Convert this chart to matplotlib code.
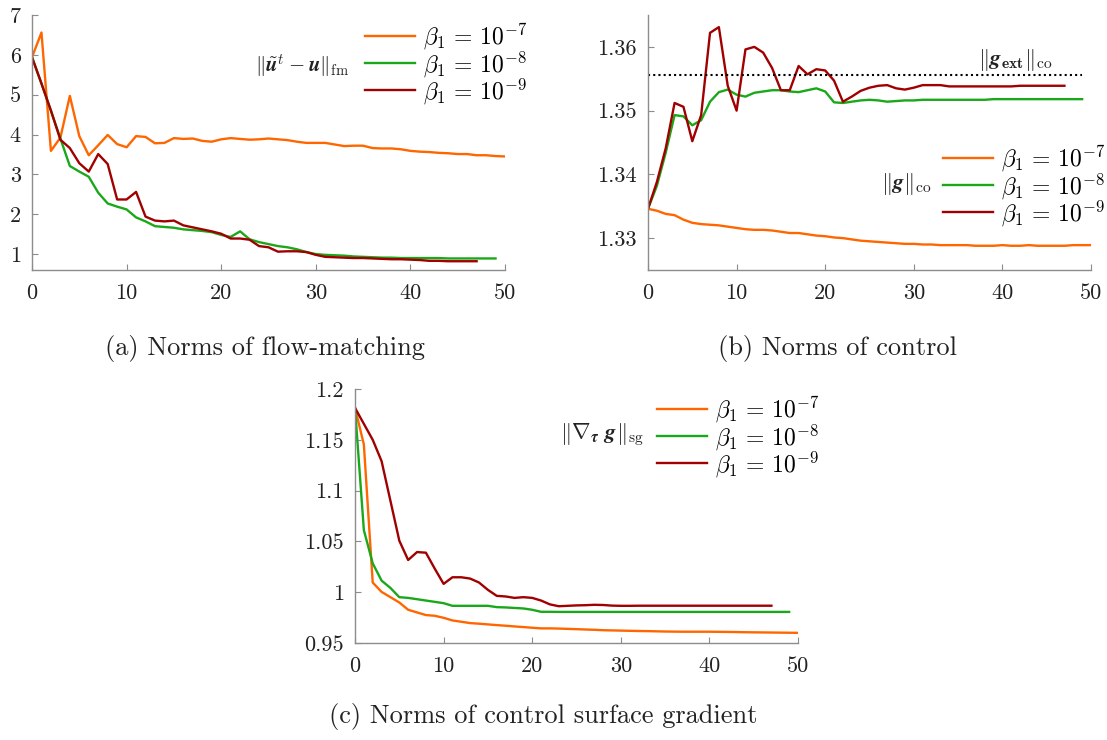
import numpy as np
import matplotlib
matplotlib.use("Agg")
import matplotlib.pyplot as plt

plt.rcParams['mathtext.fontset'] = 'cm'
plt.rcParams['font.family'] = ['cmr10', 'DejaVu Serif']
plt.rcParams['axes.formatter.use_mathtext'] = True
plt.rcParams['axes.unicode_minus'] = False

# ---------------- data ----------------
fm_b7 = [5.94, 6.56, 3.59, 3.92, 4.97, 3.96, 3.48, 3.73, 3.99, 3.76, 3.68, 3.96, 3.94, 3.78, 3.79,
         3.91, 3.89, 3.90, 3.84, 3.82, 3.88, 3.91, 3.89, 3.87, 3.88, 3.90, 3.88, 3.86, 3.82, 3.79,
         3.79, 3.79, 3.75, 3.71, 3.72, 3.72, 3.66, 3.65, 3.65, 3.63, 3.59, 3.57, 3.56, 3.54, 3.53,
         3.51, 3.51, 3.48, 3.48, 3.46, 3.45]
fm_b8 = [5.94, 5.28, 4.60, 3.90, 3.21, 3.07, 2.94, 2.54, 2.27, 2.19, 2.12, 1.92, 1.82, 1.70, 1.68,
         1.66, 1.62, 1.60, 1.58, 1.55, 1.48, 1.43, 1.57, 1.37, 1.30, 1.25, 1.20, 1.17, 1.12, 1.05,
         1.00, 0.98, 0.97, 0.96, 0.94, 0.93, 0.92, 0.91, 0.91, 0.90, 0.90, 0.90, 0.90, 0.90, 0.89,
         0.89, 0.89, 0.89, 0.89, 0.89]
fm_b9 = [5.94, 5.28, 4.60, 3.87, 3.66, 3.28, 3.07, 3.51, 3.26, 2.37, 2.37, 2.56, 1.94, 1.84, 1.82,
         1.84, 1.72, 1.67, 1.62, 1.57, 1.51, 1.39, 1.39, 1.36, 1.20, 1.17, 1.06, 1.07, 1.07, 1.05,
         0.98, 0.93, 0.92, 0.91, 0.90, 0.90, 0.89, 0.88, 0.87, 0.87, 0.86, 0.85, 0.83, 0.83, 0.82,
         0.82, 0.82, 0.82]

co_b7 = [1.3346, 1.3343, 1.3338, 1.3336, 1.3329, 1.3324, 1.3322, 1.3321, 1.3320, 1.3318, 1.3316,
         1.3314, 1.3313, 1.3313, 1.3312, 1.3310, 1.3308, 1.3308, 1.3306, 1.3304, 1.3303, 1.3301,
         1.3300, 1.3298, 1.3296, 1.3295, 1.3294, 1.3293, 1.3292, 1.3291, 1.3291, 1.3290, 1.3290,
         1.3289, 1.3289, 1.3289, 1.3289, 1.3288, 1.3288, 1.3288, 1.3289, 1.3288, 1.3288, 1.3289,
         1.3288, 1.3288, 1.3288, 1.3288, 1.3289, 1.3289, 1.3289]
co_b8 = [1.3346, 1.3382, 1.3434, 1.3493, 1.3491, 1.3477, 1.3485, 1.3514, 1.3529, 1.3533, 1.3525,
         1.3522, 1.3528, 1.3530, 1.3532, 1.3532, 1.3530, 1.3529, 1.3532, 1.3535, 1.3530, 1.3513,
         1.3512, 1.3514, 1.3516, 1.3517, 1.3516, 1.3514, 1.3515, 1.3516, 1.3516, 1.3517, 1.3517,
         1.3517, 1.3517, 1.3517, 1.3517, 1.3517, 1.3517, 1.3518, 1.3518, 1.3518, 1.3518, 1.3518,
         1.3518, 1.3518, 1.3518, 1.3518, 1.3518, 1.3518]
co_b9 = [1.3346, 1.3388, 1.3441, 1.3512, 1.3506, 1.3452, 1.3493, 1.3622, 1.3631, 1.3539, 1.3500,
         1.3596, 1.3600, 1.3591, 1.3567, 1.3532, 1.3532, 1.3570, 1.3557, 1.3565, 1.3563, 1.3547,
         1.3514, 1.3522, 1.3531, 1.3536, 1.3539, 1.3540, 1.3535, 1.3533, 1.3536, 1.3540, 1.3540,
         1.3540, 1.3538, 1.3538, 1.3538, 1.3538, 1.3538, 1.3538, 1.3538, 1.3538, 1.3539, 1.3539,
         1.3539, 1.3539, 1.3539, 1.3539]
co_ext = 1.3556
co_ext_iters = [0, 49]

sg_b7 = [1.1814, 1.1454, 1.0095, 1.0003, 0.9951, 0.9899, 0.9827, 0.9801, 0.9775, 0.9768, 0.9748,
         0.9722, 0.9709, 0.9696, 0.9690, 0.9683, 0.9676, 0.9670, 0.9663, 0.9657, 0.9650, 0.9644,
         0.9644, 0.9642, 0.9639, 0.9636, 0.9633, 0.9630, 0.9626, 0.9624, 0.9622, 0.9620, 0.9618,
         0.9617, 0.9615, 0.9613, 0.9612, 0.9611, 0.9611, 0.9611, 0.9611, 0.9610, 0.9609, 0.9608,
         0.9606, 0.9605, 0.9604, 0.9603, 0.9602, 0.9601, 0.9600]
sg_b8 = [1.1814, 1.0611, 1.0284, 1.0114, 1.0042, 0.9951, 0.9944, 0.9931, 0.9918, 0.9905, 0.9892,
         0.9866, 0.9866, 0.9866, 0.9866, 0.9866, 0.9853, 0.9850, 0.9845, 0.9840, 0.9827, 0.9807,
         0.9807, 0.9806, 0.9806, 0.9806, 0.9806, 0.9806, 0.9806, 0.9806, 0.9806, 0.9806, 0.9806,
         0.9806, 0.9806, 0.9806, 0.9806, 0.9806, 0.9806, 0.9806, 0.9806, 0.9806, 0.9806, 0.9806,
         0.9806, 0.9806, 0.9806, 0.9806, 0.9806, 0.9806]
sg_b9 = [1.1814, 1.1657, 1.1500, 1.1290, 1.0899, 1.0507, 1.0317, 1.0395, 1.0389, 1.0232, 1.0082,
         1.0147, 1.0147, 1.0134, 1.0095, 1.0023, 0.9964, 0.9958, 0.9944, 0.9951, 0.9944, 0.9918,
         0.9880, 0.9862, 0.9866, 0.9870, 0.9872, 0.9876, 0.9874, 0.9868, 0.9866, 0.9866, 0.9867,
         0.9867, 0.9867, 0.9867, 0.9867, 0.9867, 0.9867, 0.9867, 0.9867, 0.9867, 0.9867, 0.9867,
         0.9867, 0.9867, 0.9867, 0.9867]

legend_labels = [r'$\beta_1\,=\,10^{-7}$', r'$\beta_1\,=\,10^{-8}$', r'$\beta_1\,=\,10^{-9}$']
xticks = [0, 10, 20, 30, 40, 50]
yticks_a = [1, 2, 3, 4, 5, 6, 7]
yticks_b = [1.33, 1.34, 1.35, 1.36]
yticks_c = [0.95, 1.0, 1.05, 1.1, 1.15, 1.2]
captions = ['(a) Norms of flow-matching', '(b) Norms of control',
            '(c) Norms of control surface gradient']

colors = ['#ff6600', '#1aa81a', '#a00000']
spine_gray = '#8c8c8c'
text_col = '#222222'
TICK_FS = 16
LEG_FS = 17
CAP_FS = 19

W, H = 1107, 740
fig = plt.figure(figsize=(W / 100, H / 100), dpi=100)


def add_ax(left, top, right, bottom):
    return fig.add_axes([left / W, 1 - bottom / H, (right - left) / W, (bottom - top) / H])


def style(ax, ylim, yticks):
    ax.set_xlim(0, 50)
    ax.set_ylim(*ylim)
    ax.set_xticks(xticks)
    ax.set_xticklabels([f'{t:g}' for t in xticks])
    ax.set_yticks(yticks)
    ax.set_yticklabels([f'{t:g}' for t in yticks])
    for s in ['top', 'right']:
        ax.spines[s].set_visible(False)
    for s in ['left', 'bottom']:
        ax.spines[s].set_color(spine_gray)
        ax.spines[s].set_linewidth(1.0)
    ax.tick_params(axis='both', direction='in', length=4, width=0.8, color=spine_gray,
                   labelsize=TICK_FS, labelcolor=text_col)
    ax.tick_params(axis='x', pad=10)
    ax.tick_params(axis='y', pad=8)


def series(ax, ys_list):
    for ys, c, lab in zip(ys_list, colors, legend_labels):
        ax.plot(np.arange(len(ys)), ys, color=c, lw=1.7, label=lab)


def legend(ax, x, top):
    ax.legend(frameon=False, loc='upper left', bbox_to_anchor=(x / W, 1 - top / H),
              bbox_transform=fig.transFigure, fontsize=LEG_FS, handlelength=2.1,
              handletextpad=0.34, labelspacing=-0.12, borderpad=0, borderaxespad=0)


# (a)
ax1 = add_ax(32, 15, 505, 270)
series(ax1, [fm_b7, fm_b8, fm_b9])
style(ax1, (0.6, 7), yticks_a)
legend(ax1, 365, 22)
fig.text(302 / W, 1 - 66 / H, r'$\|\tilde{\boldsymbol{u}}^t - \boldsymbol{u}\|_{\mathrm{fm}}$',
         ha='center', va='center', fontsize=15, color=text_col)

# (b)
ax2 = add_ax(648, 15, 1091, 270)
series(ax2, [co_b7, co_b8, co_b9])
ax2.plot(co_ext_iters, [co_ext, co_ext], color='black', lw=1.5, ls=(0, (1, 1.5)))
style(ax2, (1.325, 1.365), yticks_b)
legend(ax2, 943, 144)
fig.text(906 / W, 1 - 184 / H, r'$\|\boldsymbol{g}\|_{\mathrm{co}}$',
         ha='center', va='center', fontsize=16, color=text_col)
fig.text(1015 / W, 1 - 60 / H, r'$\|\boldsymbol{g}_{\mathbf{ext}}\|_{\mathrm{co}}$',
         ha='center', va='center', fontsize=16, color=text_col)

# (c)
ax3 = add_ax(355, 389, 798, 643)
series(ax3, [sg_b7, sg_b8, sg_b9])
style(ax3, (0.95, 1.2), yticks_c)
legend(ax3, 657, 395)
fig.text(602 / W, 1 - 435 / H, r'$\|\nabla_{\boldsymbol{\tau}}\ \boldsymbol{g}\|_{\mathrm{sg}}$',
         ha='center', va='center', fontsize=16, color=text_col)

# captions
fig.text(265 / W, 1 - 349 / H, captions[0], ha='center', va='center', fontsize=CAP_FS, color=text_col)
fig.text(838 / W, 1 - 349 / H, captions[1], ha='center', va='center', fontsize=CAP_FS, color=text_col)
fig.text(543 / W, 1 - 716 / H, captions[2], ha='center', va='center', fontsize=CAP_FS, color=text_col)

fig.savefig('out.png', dpi=100)
